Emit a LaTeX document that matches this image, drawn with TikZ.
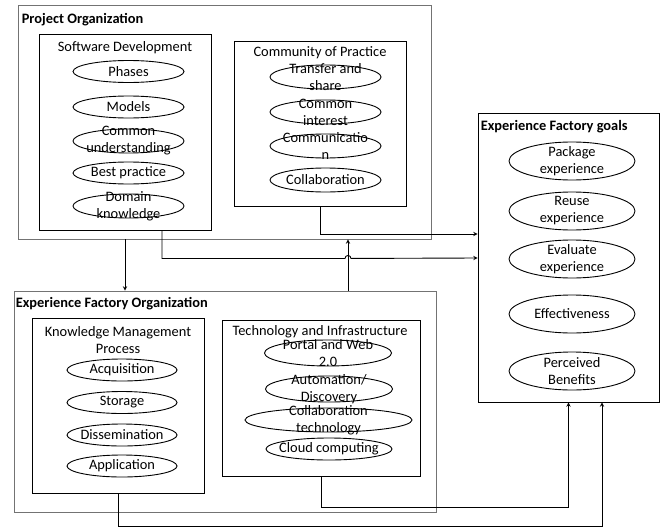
\documentclass[tikz,border=0pt]{standalone}
\usepackage{fontspec}
\setmainfont{Carlito}
\usetikzlibrary{shapes.geometric}
\tikzset{
  box/.style={draw, inner sep=0pt},
  outer/.style={draw=black!55, inner sep=0pt},
  oval/.style={draw, ellipse, inner sep=0pt, minimum width=#1, minimum height=22pt},
  oval/.default=111pt,
  lbl/.style={align=center},
  head/.style={font=\fontsize{14.4}{17}\selectfont\bfseries, anchor=west},
}
\begin{document}
\begin{tikzpicture}[x=1pt, y=-1pt, >=stealth, line width=0.9pt, font=\fontsize{14.4}{17}\selectfont]
  \useasboundingbox (0,0) rectangle (663,527);
  % project organization
  \node[outer, minimum width=413pt, minimum height=234pt] (po) at (224.5,122) {};
  \node[head] (potitle) at (18,20) {Project Organization};
  \node[box, minimum width=172pt, minimum height=196pt] (sd) at (125,132) {};
  \node (sdtitle) at (125,48) {Software Development};
  \node[oval, label={[lbl]center:Phases}] (phases) at (128.5,71.5) {};
  \node[oval, label={[lbl]center:Models}] (models) at (128.5,107) {};
  \node[oval, minimum height=24pt, label={[lbl]center:Common\\understanding}] (understanding) at (128.5,141) {};
  \node[oval, label={[lbl]center:Best practice}] (practice) at (128.5,173) {};
  \node[oval, minimum height=24pt, label={[lbl]center:Domain\\knowledge}] (domain) at (128.5,206) {};
  \node[box, minimum width=172pt, minimum height=165pt] (cop) at (320,123.5) {};
  \node (coptitle) at (320,53) {Community of Practice};
  \node[oval, minimum height=24pt, label={[lbl]center:Transfer and\\share}] (transfer) at (325.5,77) {};
  \node[oval, minimum height=24pt, label={[lbl]center:Common\\interest}] (interest) at (325.5,112) {};
  \node[oval, minimum height=24pt, label={[lbl]center:Communicatio\\n}] (communication) at (325.5,146) {};
  \node[oval, minimum height=24pt, label={[lbl]center:Collaboration}] (collaboration) at (325.5,180) {};
  % goals
  \node[box, minimum width=181pt, minimum height=289pt] (efg) at (568.5,257.5) {};
  \node[head] (efgtitle) at (477,127) {Experience Factory goals};
  \node[oval=126pt, minimum height=38pt, label={[lbl]center:Package\\experience}] (package) at (572,161) {};
  \node[oval=126pt, minimum height=38pt, label={[lbl]center:Reuse\\experience}] (reuse) at (572,211) {};
  \node[oval=126pt, minimum height=38pt, label={[lbl]center:Evaluate\\experience}] (evaluate) at (572,259) {};
  \node[oval=126pt, minimum height=38pt, label={[lbl]center:Effectiveness}] (effectiveness) at (572,314) {};
  \node[oval=126pt, minimum height=38pt, label={[lbl]center:Perceived\\Benefits}] (benefits) at (572,371) {};
  % experience factory organization
  \node[outer, minimum width=422pt, minimum height=221pt] (efo) at (225,401.5) {};
  \node[head] (efotitle) at (12,304) {Experience Factory Organization};
  \node[box, minimum width=172pt, minimum height=175pt] (kmp) at (118,405.5) {};
  \node[align=center] (kmptitle) at (118,340.5) {Knowledge Management\\Process};
  \node[oval=110pt, label={[lbl]center:Acquisition}] (acquisition) at (122,370) {};
  \node[oval=110pt, label={[lbl]center:Storage}] (storage) at (122,402.5) {};
  \node[oval=110pt, label={[lbl]center:Dissemination}] (dissemination) at (122,435) {};
  \node[oval=110pt, label={[lbl]center:Application}] (application) at (122,466) {};
  \node[box, minimum width=198pt, minimum height=156pt] (ti) at (321,398) {};
  \node (tititle) at (320,332) {Technology and Infrastructure};
  \node[oval=127pt, minimum height=26pt, label={[lbl]center:Portal and Web\\2.0}] (portal) at (328,353) {};
  \node[oval=127pt, minimum height=26pt, label={[lbl]center:Automation/\\Discovery}] (automation) at (329,389) {};
  \node[oval=167pt, minimum height=24pt, label={[lbl]center:Collaboration\\technology}] (technology) at (328.5,420) {};
  \node[oval=126pt, label={[lbl]center:Cloud computing}] (cloud) at (329,449) {};
  % connectors
  \coordinate (efoout) at ([xshift=123pt]efo.north);
  \coordinate (hop) at ([xshift=-3pt]efoout |- sd.south);
  \draw[->] (po.south -| sd) -- (efo.north -| sd);
  \draw[->] (efoout) -- (efoout |- po.south);
  \draw[->] ([xshift=37pt]sd.south) |- ([yshift=-28pt]hop) arc[start angle=180, end angle=0, radius=3pt] -- (efg.west |- 0,258);
  \draw[->] (cop.south) |- ([yshift=23.5pt]efg.west);
  \draw[->] (ti.south) -- ++(0,31) -| (efg.south);
  \draw[->] (kmp.south) -- ++(0,33) -| ([xshift=33.5pt]efg.south);
\end{tikzpicture}
\end{document}
